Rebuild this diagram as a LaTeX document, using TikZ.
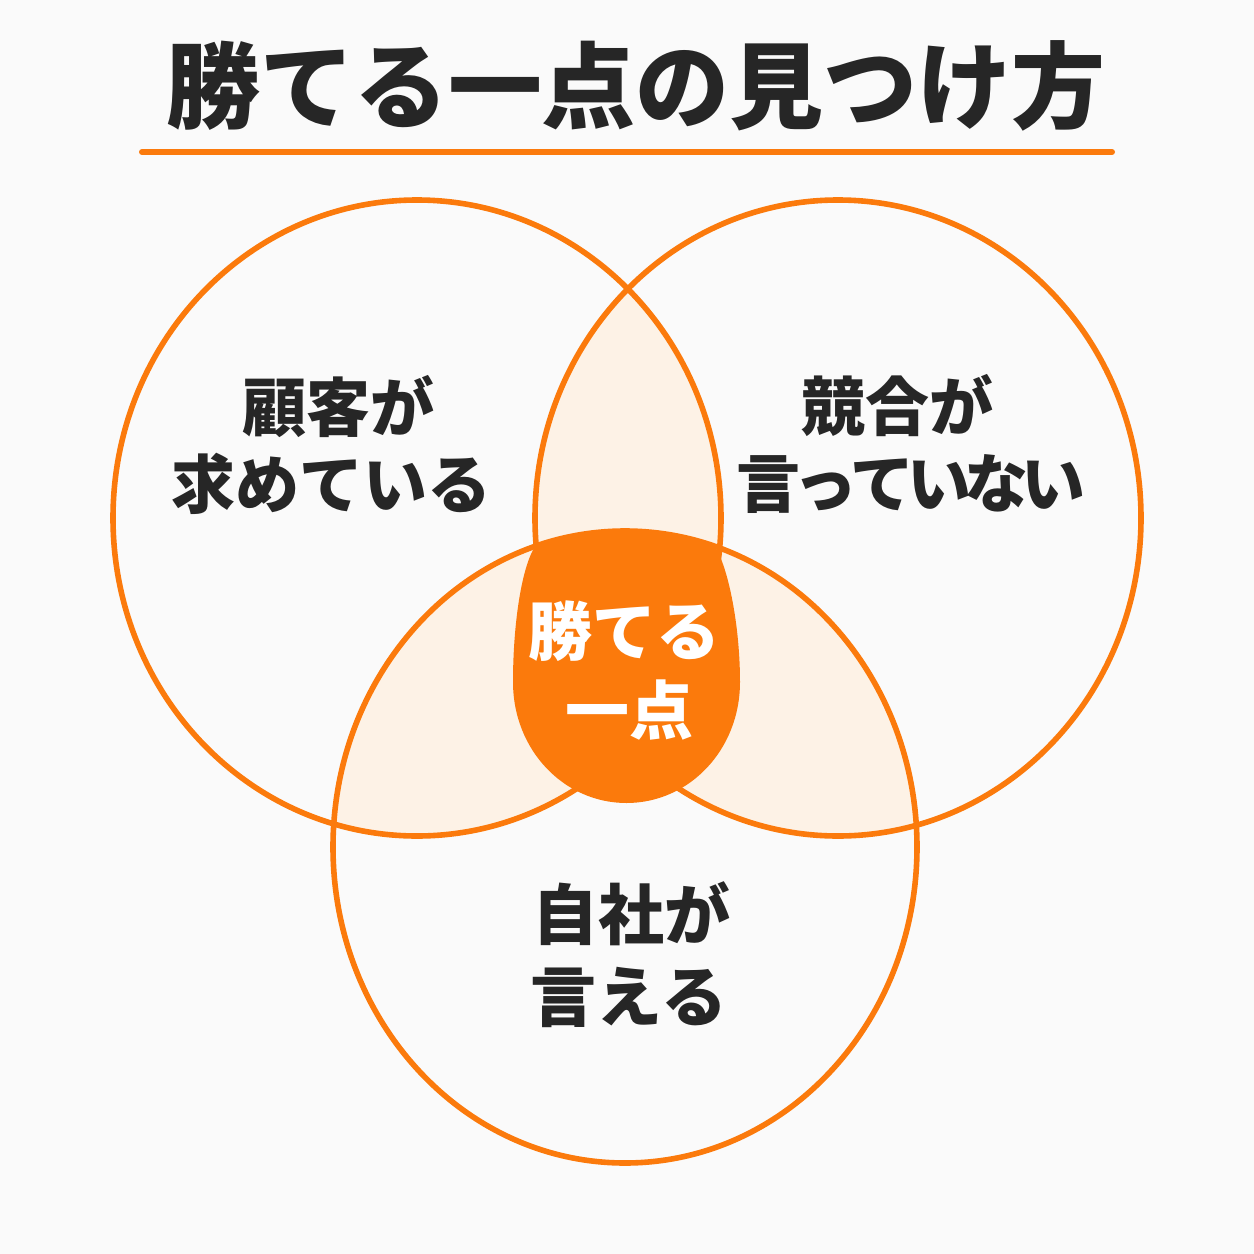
\documentclass[tikz,border=0pt]{standalone}
\usepackage{fontspec}
\newfontfamily\jp{Noto Sans CJK JP}
\definecolor{org}{HTML}{FB7A0C}
\definecolor{cream}{HTML}{FDF2E6}
\definecolor{bgc}{HTML}{FAFAFA}
\definecolor{ink}{HTML}{262626}
\begin{document}
\begin{tikzpicture}[x=0.5pt,y=-0.5pt,
  lbl/.style={font=\jp\bfseries\fontsize{32pt}{38.5pt}\selectfont, text=ink, inner sep=0pt},
  lblb/.style={font=\jp\bfseries\fontsize{33pt}{40pt}\selectfont, text=ink, inner sep=0pt},
  ring/.style={draw=org, line width=2.8pt}]
\fill[bgc] (0,0) rectangle (1254,1254);
\useasboundingbox (0,0) rectangle (1254,1254);
% title
\node[font=\jp\bfseries\fontsize{47pt}{56pt}\selectfont, text=ink, inner sep=0pt] (title) at (636,86) {勝てる一点の見つけ方};
\coordinate (u1) at (142,152);
\coordinate (u2) at (1112,152);
\draw[org, line width=3pt, line cap=round] (u1) -- (u2);
% pairwise intersections
\begin{scope}
  \clip (417,518) ellipse [x radius=152pt, y radius=159pt];
  \fill[cream] (838,518) ellipse [x radius=151.5pt, y radius=159pt];
  \fill[cream] (625,847) ellipse [x radius=146pt, y radius=158pt];
\end{scope}
\begin{scope}
  \clip (838,518) ellipse [x radius=151.5pt, y radius=159pt];
  \fill[cream] (625,847) ellipse [x radius=146pt, y radius=158pt];
\end{scope}
% rings
\draw[ring] (417,518) ellipse [x radius=152pt, y radius=159pt];
\draw[ring] (838,518) ellipse [x radius=151.5pt, y radius=159pt];
\draw[ring] (625,847) ellipse [x radius=146pt, y radius=158pt];
% centre
\fill[org] (533,550) .. controls (565,525) and (690,525) .. (717,550)
  .. controls (730,575) and (740,630) .. (740,682)
  .. controls (740,750) and (689,803) .. (626.5,803)
  .. controls (564,803) and (513,750) .. (513,682)
  .. controls (513,630) and (520,575) .. (533,550) -- cycle;
% labels
\node[lbl] (cust1) at (338,407) {顧客が};
\node[lbl] (cust2) at (331,484) {求めている};
\node[lbl] (comp1) at (897,406) {競合が};
\node[lbl] (comp2) at (911,484) {言\kern-3.5pt っ\kern-3.5pt て\kern-3.5pt い\kern-3.5pt な\kern-3.5pt い};
\node[lblb] (self1) at (631,914) {自社が};
\node[lblb] (self2) at (629,997) {言える};
\node[lbl, text=white] (win1) at (624,631) {勝てる};
\node[lbl, text=white] (win2) at (629,710) {一点};
\end{tikzpicture}
\end{document}
